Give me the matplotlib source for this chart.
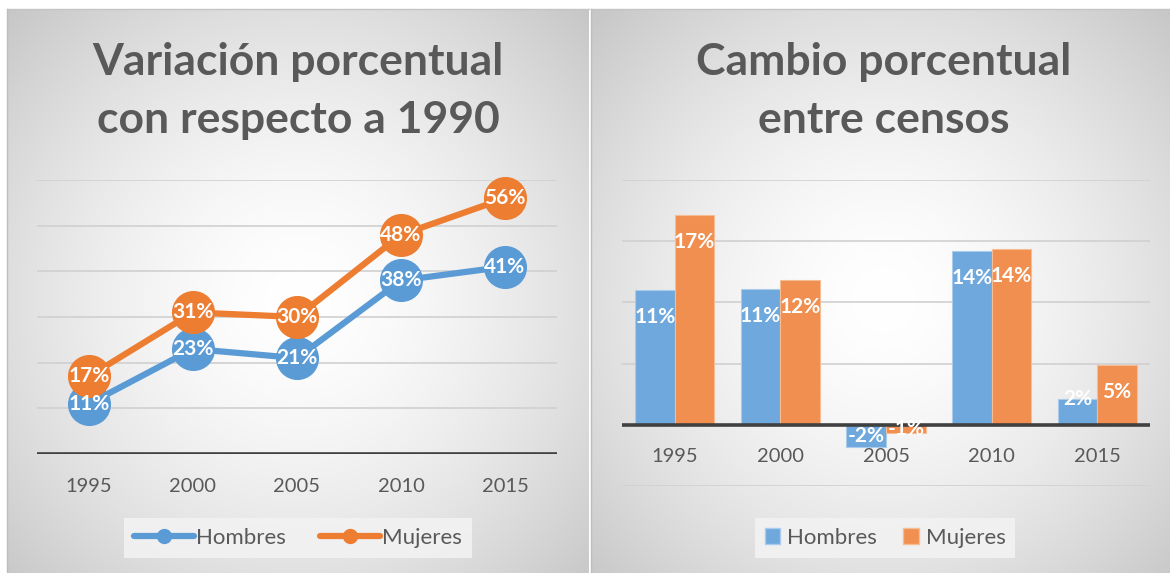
import numpy as np
import matplotlib
matplotlib.use("Agg")
import matplotlib.pyplot as plt
from matplotlib.lines import Line2D
from matplotlib.patches import Patch

# data
years = ["1995", "2000", "2005", "2010", "2015"]
hombres_acum = [11, 23, 21, 38, 41]
mujeres_acum = [17, 31, 30, 48, 56]
hombres_cambio = [11.0, 11.1, -1.8, 14.2, 2.1]
mujeres_cambio = [17.1, 11.8, -0.7, 14.4, 4.9]
series = ["Hombres", "Mujeres"]

BLUE = "#5B9BD5"
ORANGE = "#ED7D31"
TXT = "#595959"
GRID = "#d0d0d0"
AXIS = "#404040"
FONT = "Lato"

W, H = 1170, 573
plt.rcParams['font.family'] = [FONT, 'DejaVu Sans']

fig = plt.figure(figsize=(W / 100, H / 100), dpi=100)
fig.patch.set_facecolor("white")


def px(x0, y0, x1, y1):
    # pixel box (top-left origin) -> figure rect
    return [x0 / W, 1 - y1 / H, (x1 - x0) / W, (y1 - y0) / H]


# background panels with radial gradient
bg = fig.add_axes([0, 0, 1, 1])
bg.set_xlim(0, W)
bg.set_ylim(H, 0)
bg.axis("off")
for x0, x1, cx in [(7, 589, 298), (591, 1170, 884)]:
    y0, y1, cy = 9, 573, 300
    xs = np.linspace(x0, x1, 300)
    ys = np.linspace(y0, y1, 300)
    X, Y = np.meshgrid(xs, ys)
    d = np.sqrt(((X - cx) / 290.0) ** 2 + ((Y - cy) / 290.0) ** 2) / 1.41
    v = 1.0 - 0.22 * np.clip(d, 0, 1) ** 1.6
    img = np.dstack([v, v, v])
    bg.imshow(img, extent=[x0, x1, y1, y0], aspect="auto", interpolation="bilinear")
    bg.plot([x0, x0], [y0, y1], color="#bdbdbd", lw=1)
    bg.plot([x0, x1], [y0, y0], color="#c4c4c4", lw=1)

# titles
for cx, lines in [(298, ["Variación porcentual", "con respecto a 1990"]),
                  (884, ["Cambio porcentual", "entre censos"])]:
    for y, line in zip([62, 120], lines):
        fig.text(cx / W, 1 - y / H, line, ha="center", va="center",
                 fontsize=32, fontweight="bold", color=TXT)

x = np.arange(len(years))

# left: line chart
ax1 = fig.add_axes(px(37, 180, 557, 454))
ax1.set_xlim(-0.5, 4.5)
ax1.set_ylim(0, 60)
ax1.axis("off")
for g in range(10, 61, 10):
    ax1.axhline(g, color=GRID, lw=1.2, zorder=1)
ax1.axhline(0, color=AXIS, lw=2.6, zorder=2)
for vals, col in [(hombres_acum, BLUE), (mujeres_acum, ORANGE)]:
    ax1.plot(x, vals, color=col, lw=4.5, marker="o", ms=30, mec=col,
             clip_on=False, zorder=3, solid_capstyle="round")
    for xi, v in zip(x, vals):
        ax1.text(xi, v, f"{v}%", ha="center", va="center", color="white",
                 fontsize=15, fontweight="bold", zorder=4, clip_on=False)
for xi, yr in zip(x, years):
    ax1.annotate(yr, (xi, 0), xytext=(0, -33 * 0.72), textcoords="offset points",
                 ha="center", va="center", fontsize=14.5, color=TXT)

fig.legend(
    [Line2D([], [], color=BLUE, lw=4.5, marker="o", ms=10, solid_capstyle="round"),
     Line2D([], [], color=ORANGE, lw=4.5, marker="o", ms=10, solid_capstyle="round")],
    series, loc="center", bbox_to_anchor=(298 / W, 1 - 538 / H), ncol=2,
    frameon=True, facecolor="#f2f2f2", edgecolor="none", fancybox=False,
    fontsize=16, labelcolor=TXT, handlelength=2.7, handletextpad=0.1,
    columnspacing=1.5, borderpad=0.45, framealpha=0.9)

# right: bar chart
ax2 = fig.add_axes(px(622, 180, 1150, 486))
ax2.set_xlim(-0.5, 4.5)
ax2.set_ylim(-5, 20)
ax2.axis("off")
for g in [-5, 5, 10, 15, 20]:
    ax2.axhline(g, color=GRID, lw=1.2, zorder=1)
bw = 0.375
px_per_unit = 306 / 25.0
for vals, col, edge, off in [(hombres_cambio, "#6fa8dc", "#a9cbec", -bw / 2),
                             (mujeres_cambio, "#f08f4f", "#f6bd95", bw / 2)]:
    ax2.bar(x + off, vals, width=bw, color=col, edgecolor=edge, lw=0.8, zorder=2)
    for xi, v in zip(x + off, vals):
        h = abs(v) * px_per_unit
        if h > 54:
            ly, dy = v, -27 * np.sign(v)
        elif v < 0:
            ly, dy = v / 2, 0
        else:
            ly, dy = v, 0
        ax2.annotate(f"{round(v):d}%", (xi, ly), xytext=(0, dy * 0.72),
                     textcoords="offset points", ha="center", va="center",
                     color="white", fontsize=15, fontweight="bold", zorder=5)
ax2.axhline(0, color=AXIS, lw=2.6, zorder=3)
for xi, yr in zip(x, years):
    ax2.annotate(yr, (xi, 0), xytext=(0, -32 * 0.72), textcoords="offset points",
                 ha="center", va="center", fontsize=14.5, color=TXT, zorder=4)

fig.legend(
    [Patch(facecolor="#6fa8dc", edgecolor="#a9cbec"),
     Patch(facecolor="#f08f4f", edgecolor="#f6bd95")],
    series, loc="center", bbox_to_anchor=(885 / W, 1 - 538 / H), ncol=2,
    frameon=True, facecolor="#f2f2f2", edgecolor="none", fancybox=False,
    fontsize=16, labelcolor=TXT, handlelength=0.7, handleheight=0.7,
    handletextpad=0.3, columnspacing=1.2, borderpad=0.45, framealpha=0.9)

fig.savefig("out.png", dpi=100)
